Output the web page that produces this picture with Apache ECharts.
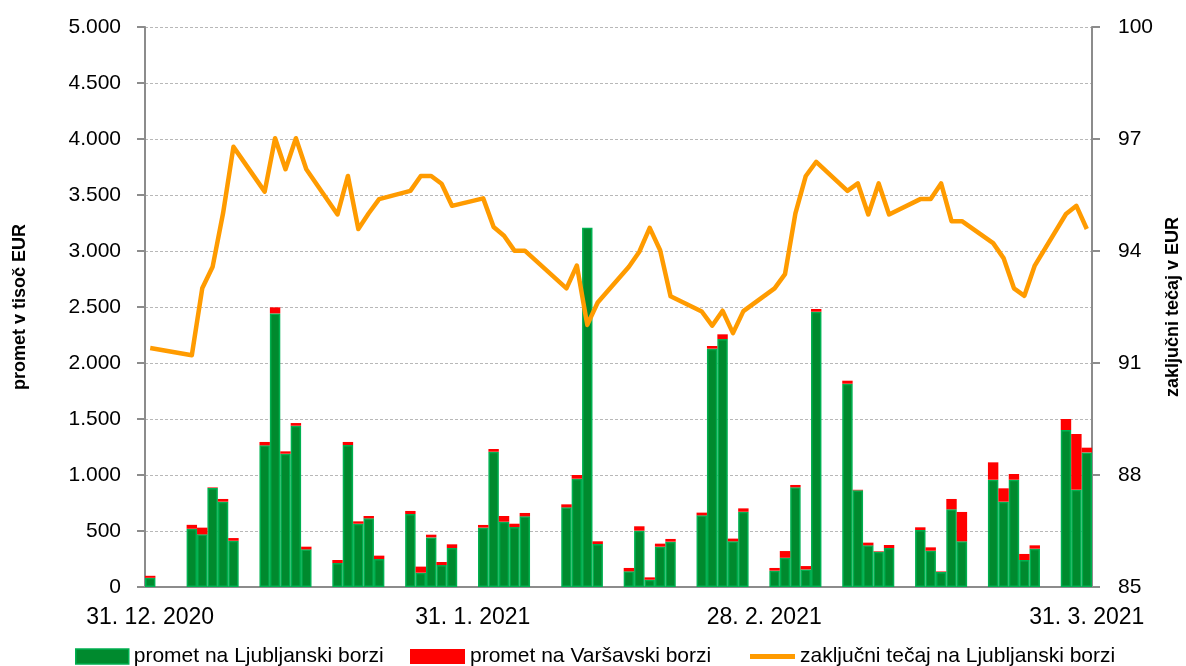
<!DOCTYPE html>
<html>
<head>
<meta charset="utf-8">
<script src="https://cdn.jsdelivr.net/npm/echarts@6/dist/echarts.min.js"></script>
<style>
html,body{margin:0;padding:0;background:#fff;}
#chart{width:1186px;height:666px;}
</style>
</head>
<body>
<div id="chart"></div>
<script>
// Trading days (Ljubljana Stock Exchange)
const tradingDates = [
  '2020-12-31',
  '2021-01-04','2021-01-05','2021-01-06','2021-01-07','2021-01-08',
  '2021-01-11','2021-01-12','2021-01-13','2021-01-14','2021-01-15',
  '2021-01-18','2021-01-19','2021-01-20','2021-01-21','2021-01-22',
  '2021-01-25','2021-01-26','2021-01-27','2021-01-28','2021-01-29',
  '2021-02-01','2021-02-02','2021-02-03','2021-02-04','2021-02-05',
  '2021-02-09','2021-02-10','2021-02-11','2021-02-12',
  '2021-02-15','2021-02-16','2021-02-17','2021-02-18','2021-02-19',
  '2021-02-22','2021-02-23','2021-02-24','2021-02-25','2021-02-26',
  '2021-03-01','2021-03-02','2021-03-03','2021-03-04','2021-03-05',
  '2021-03-08','2021-03-09','2021-03-10','2021-03-11','2021-03-12',
  '2021-03-15','2021-03-16','2021-03-17','2021-03-18','2021-03-19',
  '2021-03-22','2021-03-23','2021-03-24','2021-03-25','2021-03-26',
  '2021-03-29','2021-03-30','2021-03-31'
];
// promet na Ljubljanski borzi (thousand EUR)
const ljubljana = [
  82,
  520, 470, 885, 762, 413,
  1265, 2443, 1190, 1440, 336,
  214, 1268, 565, 613, 250,
  652, 128, 443, 196, 348,
  530, 1208, 583, 535, 631,
  711, 967, 3208, 384,
  140, 503, 65, 360, 405,
  640, 2128, 2214, 408, 672,
  146, 261, 890, 157, 2458,
  1815, 863, 372, 315, 348,
  509, 324, 134, 694, 408,
  958, 762, 958, 241, 342,
  1402, 869, 1202
];
// promet na Varšavski borzi (thousand EUR)
const varsava = [
  18,
  35, 60, 5, 24, 24,
  30, 54, 21, 24, 24,
  27, 27, 21, 21, 30,
  27, 54, 24, 27, 33,
  24, 24, 51, 30, 30,
  27, 33, 0, 24,
  30, 39, 21, 27, 24,
  24, 24, 42, 24, 30,
  24, 60, 21, 30, 24,
  27, 5, 24, 5, 27,
  24, 30, 5, 92, 262,
  155, 119, 51, 54, 30,
  98, 497, 42
];
// zaključni tečaj na Ljubljanski borzi (EUR)
const tecaj = [
  91.40,
  91.21, 93.00, 93.58, 95.01, 96.79,
  95.59, 97.02, 96.19, 97.02, 96.19,
  94.98, 96.01, 94.59, 95.01, 95.39,
  95.61, 96.01, 96.01, 95.80, 95.21,
  95.41, 94.64, 94.41, 94.01, 94.01,
  93.00, 93.61, 92.02, 92.62,
  93.58, 93.98, 94.62, 94.02, 92.79,
  92.38, 92.00, 92.40, 91.80, 92.39,
  93.00, 93.38, 95.01, 96.01, 96.39,
  95.61, 95.81, 94.98, 95.81, 94.98,
  95.39, 95.39, 95.81, 94.80, 94.80,
  94.21, 93.81, 93.00, 92.80, 93.61,
  94.99, 95.21, 94.59
];
const tickDates = ['2020-12-31','2021-01-31','2021-02-28','2021-03-31'];
const tickLabels = ['31. 12. 2020','31. 1. 2021','28. 2. 2021','31. 3. 2021'];
const seriesNames = ['promet na Ljubljanski borzi','promet na Varšavski borzi','zaključni tečaj na Ljubljanski borzi'];

// calendar category axis
const categories = [];
{
  let d = new Date(Date.UTC(2020, 11, 31));
  const end = new Date(Date.UTC(2021, 2, 31));
  while (d <= end) {
    categories.push(d.toISOString().slice(0, 10));
    d = new Date(d.getTime() + 86400000);
  }
}
function onCalendar(values) {
  const m = {};
  tradingDates.forEach((t, i) => { m[t] = values[i]; });
  return categories.map(c => (c in m ? m[c] : null));
}

const FONT = "'Liberation Sans',Arial,sans-serif";

const chart = echarts.init(document.getElementById('chart'), null, { renderer: 'canvas' });
chart.setOption({
  animation: false,
  backgroundColor: '#ffffff',
  grid: { left: 145, right: 94, top: 27, bottom: 79, containLabel: false, outerBoundsMode: 'none' },
  legend: [
    { left: 75, top: 646, padding: 0, itemWidth: 53, itemHeight: 15, icon: 'rect', data: [seriesNames[0]],
      itemStyle: { borderColor: '#00b050', borderWidth: 1.5 },
      textStyle: { fontFamily: FONT, fontSize: 21, color: '#000' } },
    { left: 410, top: 646, padding: 0, itemWidth: 55, itemHeight: 15, icon: 'rect', data: [seriesNames[1]],
      textStyle: { fontFamily: FONT, fontSize: 21, color: '#000' } },
    { left: 750, top: 646, padding: 0, itemWidth: 45, itemHeight: 5, icon: 'rect', data: [seriesNames[2]],
      textStyle: { fontFamily: FONT, fontSize: 21, color: '#000' } }
  ],
  xAxis: {
    type: 'category',
    data: categories,
    boundaryGap: true,
    axisLine: { show: true, lineStyle: { color: '#8c8c8c', width: 2 } },
    axisTick: { show: false },
    axisLabel: {
      interval: (idx, val) => tickDates.includes(val),
      formatter: (val) => { const i = tickDates.indexOf(val); return i >= 0 ? tickLabels[i] : ''; },
      fontFamily: FONT, fontSize: 23, color: '#000', margin: 19
    },
    splitLine: { show: false }
  },
  yAxis: [
    {
      type: 'value', min: 0, max: 5000, interval: 500,
      name: 'promet v tisoč EUR', nameLocation: 'middle', nameRotate: 90, nameGap: 116,
      nameTextStyle: { fontFamily: FONT, fontWeight: 'bold', fontSize: 18, color: '#000' },
      axisLine: { show: true, lineStyle: { color: '#8c8c8c', width: 2 } },
      axisTick: { show: true, length: 8, inside: false, lineStyle: { color: '#8c8c8c', width: 2 } },
      axisLabel: {
        formatter: (v) => v.toLocaleString('de-DE'),
        fontFamily: FONT, fontSize: 21, color: '#000', margin: 24
      },
      splitLine: { show: true, lineStyle: { color: '#b8b8b8', type: [3, 2], width: 1 } }
    },
    {
      type: 'value', min: 85, max: 100, interval: 3, position: 'right',
      name: 'zaključni tečaj v EUR', nameLocation: 'middle', nameRotate: 90, nameGap: 72,
      nameTextStyle: { fontFamily: FONT, fontWeight: 'bold', fontSize: 18, color: '#000' },
      axisLine: { show: true, lineStyle: { color: '#8c8c8c', width: 2 } },
      axisTick: { show: true, length: 8, inside: false, lineStyle: { color: '#8c8c8c', width: 2 } },
      axisLabel: { fontFamily: FONT, fontSize: 21, color: '#000', margin: 26 },
      splitLine: { show: false }
    }
  ],
  series: [
    {
      name: seriesNames[0], type: 'bar', stack: 'promet', yAxisIndex: 0,
      data: onCalendar(ljubljana),
      barCategoryGap: '0%', barGap: '0%',
      itemStyle: { color: '#008a2e', borderColor: '#00b050', borderWidth: 1.5 }
    },
    {
      name: seriesNames[1], type: 'bar', stack: 'promet', yAxisIndex: 0,
      data: onCalendar(varsava),
      barCategoryGap: '0%', barGap: '0%',
      itemStyle: { color: '#ff0000', borderWidth: 0 }
    },
    {
      name: seriesNames[2], type: 'line', yAxisIndex: 1,
      data: onCalendar(tecaj),
      connectNulls: true, symbol: 'none', showSymbol: false,
      lineStyle: { color: '#ff9b00', width: 4.5, join: 'round' },
      itemStyle: { color: '#ff9b00' },
      z: 5
    }
  ]
});
</script>
</body>
</html>
